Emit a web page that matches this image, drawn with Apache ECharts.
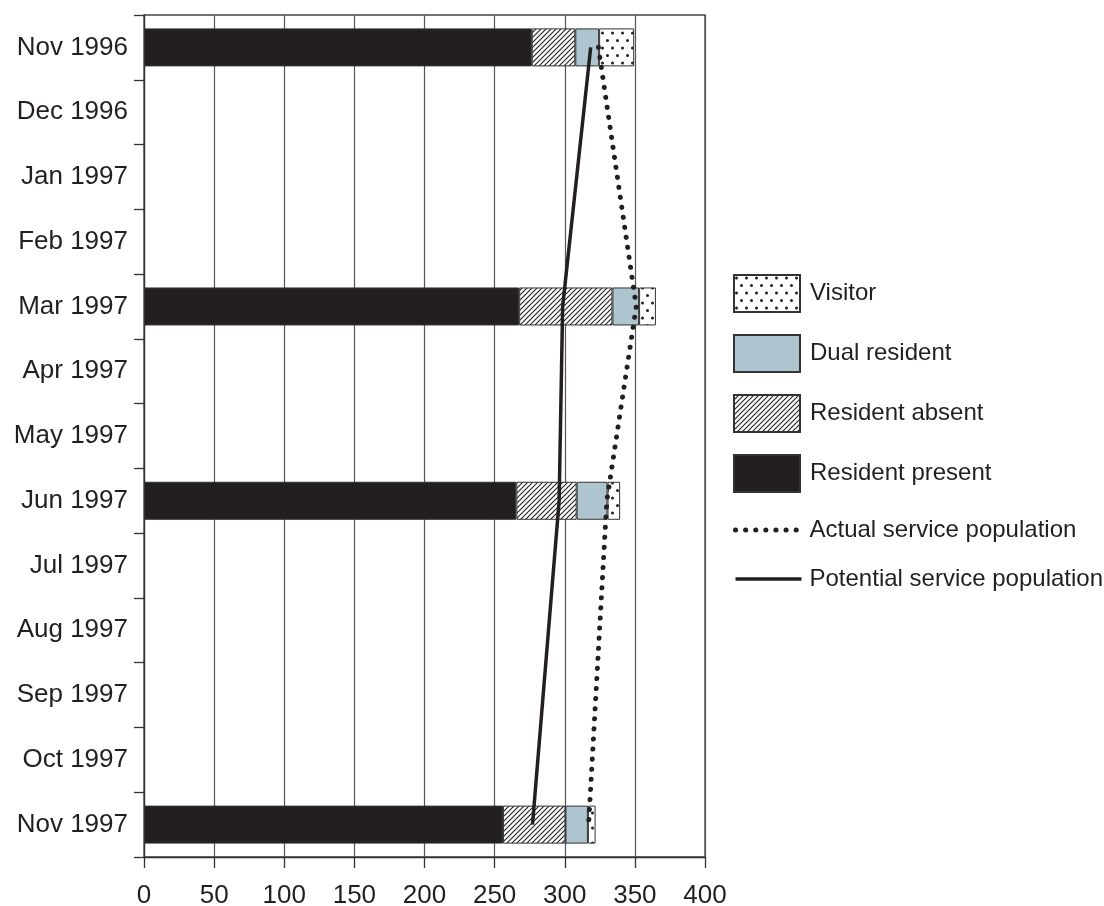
<!DOCTYPE html>
<html>
<head>
<meta charset="utf-8">
<script src="https://cdn.jsdelivr.net/npm/echarts@6/dist/echarts.min.js"></script>
<style>
html,body{margin:0;padding:0;background:#fff;}
#chart{width:1104px;height:906px;}
</style>
</head>
<body>
<div id="chart"></div>
<script>
const categories = ['Nov 1996','Dec 1996','Jan 1997','Feb 1997','Mar 1997','Apr 1997','May 1997','Jun 1997','Jul 1997','Aug 1997','Sep 1997','Oct 1997','Nov 1997'];
const residentPresent = [276.5, null, null, null, 267.5, null, null, 265.5, null, null, null, null, 256];
const residentAbsent  = [31,    null, null, null, 66.5,  null, null, 43,    null, null, null, null, 44.5];
const dualResident    = [17,    null, null, null, 19,    null, null, 22,    null, null, null, null, 16];
const visitor         = [25,    null, null, null, 12,    null, null, 9,     null, null, null, null, 5.5];
const actualService   = [324,   null, null, null, 351,   null, null, 330,   null, null, null, null, 317];
const potentialService= [318.5, null, null, null, 298.5, null, null, 296,   null, null, null, null, 277];
const xTicks = [0, 50, 100, 150, 200, 250, 300, 350, 400];

function hatchPattern() {
  const c = document.createElement('canvas');
  c.width = 5; c.height = 5;
  const g = c.getContext('2d');
  g.fillStyle = '#fff'; g.fillRect(0, 0, 5, 5);
  g.strokeStyle = '#231f20'; g.lineWidth = 1.1;
  g.beginPath();
  g.moveTo(-1, 6); g.lineTo(6, -1);
  g.moveTo(-1, 1); g.lineTo(1, -1);
  g.moveTo(4, 6); g.lineTo(6, 4);
  g.stroke();
  return c;
}
function dotPattern() {
  const c = document.createElement('canvas');
  c.width = 10; c.height = 15;
  const g = c.getContext('2d');
  g.fillStyle = '#fff'; g.fillRect(0, 0, 10, 15);
  g.fillStyle = '#231f20';
  g.beginPath(); g.arc(2.5, 3, 1.5, 0, Math.PI * 2); g.fill();
  g.beginPath(); g.arc(7.5, 10.5, 1.5, 0, Math.PI * 2); g.fill();
  return c;
}

const ink = '#231f20';
const font = 'Liberation Sans, Arial, Helvetica, sans-serif';
const chart = echarts.init(document.getElementById('chart'));
const barBorder = { borderColor: '#333', borderWidth: 1 };
const dottedStyle = { color: ink, width: 5, type: [0.1, 10], cap: 'round' };
const solidStyle = { color: ink, width: 3.5, type: 'solid' };
const hidden = { color: 'rgba(0,0,0,0)', borderColor: 'rgba(0,0,0,0)', borderWidth: 0 };

chart.setOption({
  animation: false,
  backgroundColor: '#fff',
  grid: { left: 144, right: 399, top: 15, bottom: 49, containLabel: false, outerBoundsMode: 'none',
          show: true, borderColor: '#444', borderWidth: 1.3, backgroundColor: 'transparent' },
  xAxis: {
    type: 'value', min: 0, max: 400, interval: 50,
    axisLine: { show: true, lineStyle: { color: '#333', width: 1.3 } },
    axisTick: { show: true, length: 11, lineStyle: { color: '#333', width: 1.3 } },
    axisLabel: { color: ink, fontSize: 26, fontFamily: font, margin: 26 },
    splitLine: { show: true, lineStyle: { color: '#555', width: 1.2 } }
  },
  yAxis: {
    type: 'category', data: categories, inverse: true,
    axisLine: { show: true, lineStyle: { color: '#333', width: 1.3 } },
    axisTick: { show: true, length: 10, lineStyle: { color: '#333', width: 1.3 } },
    axisLabel: { color: ink, fontSize: 26, fontFamily: font, margin: 16 },
    splitLine: { show: false }
  },
  legend: [
    {
      orient: 'vertical', left: 733, top: 274, padding: 0,
      itemWidth: 66, itemHeight: 37, itemGap: 21, icon: 'rect',
      textStyle: { color: ink, fontSize: 24, fontFamily: font, padding: [0, 0, 0, 5] },
      data: ['Visitor', 'Dual resident', 'Resident absent', 'Resident present']
    },
    {
      orient: 'vertical', left: 733, top: 518, padding: 0,
      itemWidth: 66, itemHeight: 20, itemGap: 25,
      itemStyle: hidden,
      textStyle: { color: ink, fontSize: 24, fontFamily: font, padding: [0, 0, 0, 3] },
      data: [
        { name: 'Actual service population', itemStyle: hidden, lineStyle: dottedStyle },
        { name: 'Potential service population', itemStyle: hidden, lineStyle: solidStyle }
      ]
    }
  ],
  series: [
    { name: 'Resident present', type: 'bar', stack: 'pop', barWidth: 38, data: residentPresent,
      itemStyle: Object.assign({ color: ink }, barBorder) },
    { name: 'Resident absent', type: 'bar', stack: 'pop', barWidth: 38, data: residentAbsent,
      itemStyle: Object.assign({ color: { image: hatchPattern(), repeat: 'repeat' } }, barBorder) },
    { name: 'Dual resident', type: 'bar', stack: 'pop', barWidth: 38, data: dualResident,
      itemStyle: Object.assign({ color: '#aec4ce' }, barBorder) },
    { name: 'Visitor', type: 'bar', stack: 'pop', barWidth: 38, data: visitor,
      itemStyle: Object.assign({ color: { image: dotPattern(), repeat: 'repeat' } }, barBorder) },
    { name: 'Actual service population', type: 'line', data: actualService, connectNulls: true,
      symbol: 'none', z: 5,
      itemStyle: { color: ink },
      lineStyle: dottedStyle },
    { name: 'Potential service population', type: 'line', data: potentialService, connectNulls: true,
      symbol: 'none', z: 5,
      itemStyle: { color: ink },
      lineStyle: solidStyle }
  ]
});
</script>
</body>
</html>
